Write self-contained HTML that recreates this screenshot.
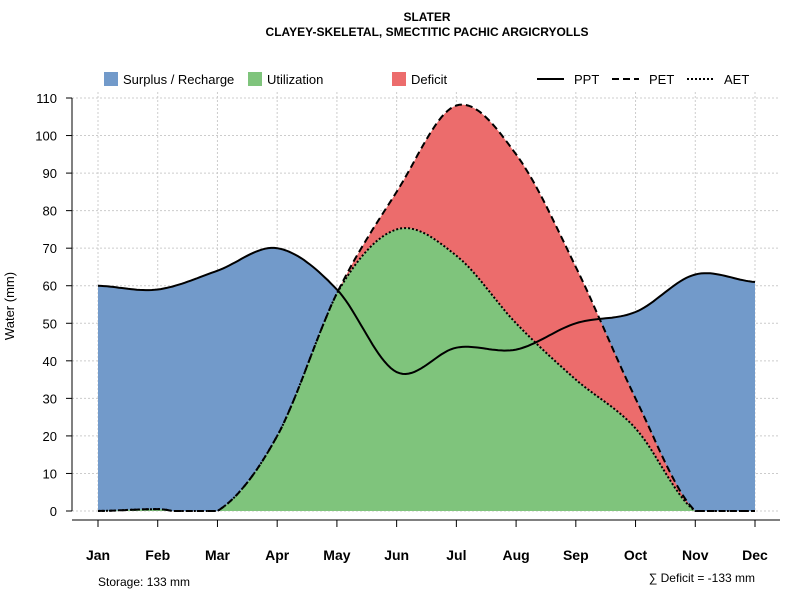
<!DOCTYPE html>
<html><head><meta charset="utf-8"><style>
body{margin:0;background:#fff;font-family:"Liberation Sans",sans-serif}
svg text{font-family:"Liberation Sans",sans-serif}
</style></head><body>
<svg id="c" width="800" height="600">
<text x="427" y="21" text-anchor="middle" font-size="12" font-weight="bold">SLATER</text>
<text x="427" y="36" text-anchor="middle" font-size="12" font-weight="bold">CLAYEY-SKELETAL, SMECTITIC PACHIC ARGICRYOLLS</text>
<g id="grid"></g><g id="areas"></g><g id="lines"></g><g id="axes"></g>
<g font-size="13">
<rect x="104" y="72" width="14" height="14" fill="#729ACA"/>
<text x="123" y="84">Surplus / Recharge</text>
<rect x="248" y="72" width="14" height="14" fill="#7FC47C"/>
<text x="267" y="84">Utilization</text>
<rect x="392" y="72" width="14" height="14" fill="#EC6C6C"/>
<text x="411" y="84">Deficit</text>
<line x1="537" y1="79" x2="564" y2="79" stroke="#000" stroke-width="2"/>
<text x="574" y="84">PPT</text>
<line x1="612" y1="79" x2="639" y2="79" stroke="#000" stroke-width="2" stroke-dasharray="7,4"/>
<text x="649" y="84">PET</text>
<line x1="687" y1="79" x2="714" y2="79" stroke="#000" stroke-width="2" stroke-dasharray="2,2"/>
<text x="724" y="84">AET</text>
</g>
<text x="98" y="586" font-size="12">Storage: 133 mm</text>
<text x="755" y="582" text-anchor="end" font-size="12">∑ Deficit = -133 mm</text>
<text transform="translate(14,306) rotate(-90)" text-anchor="middle" font-size="13">Water (mm)</text>
</svg>
<script>
const months=["Jan","Feb","Mar","Apr","May","Jun","Jul","Aug","Sep","Oct","Nov","Dec"];
const ppt=[60,59,64,70,59,37,43.5,43,50,53,63,61];
const pet=[0,0.5,0,20,58,85,108,95,65,30,0,0];
const aet=[0,0.5,0,20,58,75,68,50,35,22,0,0];
const yTicks=[0,10,20,30,40,50,60,70,80,90,100,110];
const NS="http://www.w3.org/2000/svg";
const X=i=>98+i*(755-98)/11, Y=v=>511-v*(511-98)/110;
function mk(tag,attrs,parent){const e=document.createElementNS(NS,tag);for(const k in attrs)e.setAttribute(k,attrs[k]);document.getElementById(parent).appendChild(e);return e;}
function sv(vals){const out=[];const n=vals.length;
 for(let i=0;i<n-1;i++){const p0=vals[Math.max(i-1,0)],p1=vals[i],p2=vals[i+1],p3=vals[Math.min(i+2,n-1)];
  for(let s=0;s<20;s++){const t=s/20,t2=t*t,t3=t2*t;
   const v=0.5*((2*p1)+(-p0+p2)*t+(2*p0-5*p1+4*p2-p3)*t2+(-p0+3*p1-3*p2+p3)*t3);
   out.push([i+t,Math.max(0,v)]);}}
 out.push([n-1,Math.max(0,vals[n-1])]);return out;}
const Pv=sv(ppt),Ev=sv(pet),Av=sv(aet).map((q,k)=>[q[0],Math.min(q[1],Ev[k][1])]);
const toPx=a=>a.map(q=>[X(q[0]),Y(q[1])]);
const P=toPx(Pv),E=toPx(Ev),A=toPx(Av);
const str=p=>p.map(q=>q[0].toFixed(1)+","+q[1].toFixed(1)).join(" ");
const base=[[X(11),Y(0)],[X(0),Y(0)]];
let e;
yTicks.forEach(v=>{e=mk("line",{x1:72,x2:780,y1:Y(v),y2:Y(v),stroke:"#ccc","stroke-dasharray":"2,2"},"grid");

});
months.forEach((m,i)=>{e=mk("line",{x1:X(i),x2:X(i),y1:92,y2:511,stroke:"#ccc","stroke-dasharray":"2,2"},"grid");

});
e=mk("polygon",{points:str(P.concat(base)),fill:"#729ACA"},"areas");


e=mk("polygon",{points:str(E.concat(A.slice().reverse())),fill:"#EC6C6C"},"areas");


e=mk("polygon",{points:str(A.concat(base)),fill:"#7FC47C"},"areas");


e=mk("polyline",{points:str(P),fill:"none",stroke:"#000","stroke-width":2},"lines");


e=mk("polyline",{points:str(E),fill:"none",stroke:"#000","stroke-width":2,"stroke-dasharray":"7,4"},"lines");


e=mk("polyline",{points:str(A),fill:"none",stroke:"#000","stroke-width":2,"stroke-dasharray":"2,2"},"lines");


e=mk("line",{x1:72,x2:72,y1:Y(0),y2:Y(110),stroke:"#000"},"axes");


e=mk("line",{x1:72,x2:780,y1:520,y2:520,stroke:"#000"},"axes");


yTicks.forEach(v=>{mk("line",{x1:66,x2:72,y1:Y(v),y2:Y(v),stroke:"#000"},"axes");
e=mk("text",{x:57,y:Y(v)+5,"text-anchor":"end","font-size":13},"axes");e.textContent=v;

});
months.forEach((m,i)=>{mk("line",{x1:X(i),x2:X(i),y1:520,y2:527,stroke:"#000"},"axes");
e=mk("text",{x:X(i),y:560,"text-anchor":"middle","font-size":14,"font-weight":"bold"},"axes");e.textContent=m;

});
</script>
</body></html>
